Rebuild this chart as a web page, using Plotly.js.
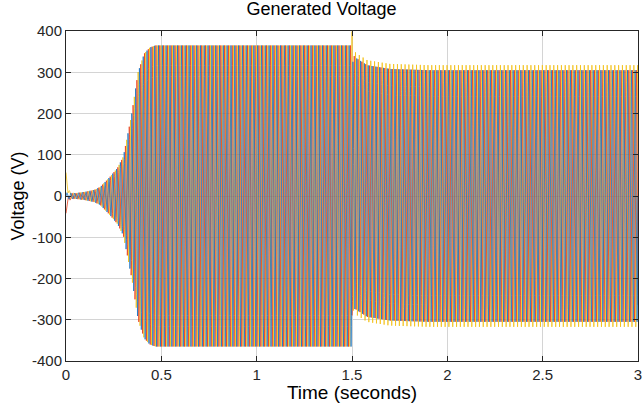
<!DOCTYPE html>
<html><head><meta charset="utf-8">
<script src="https://cdn.plot.ly/plotly-3.0.1.min.js"></script>
<style>body{margin:0;background:#fff}#c{width:643px;height:403px}</style>
</head><body><div id="c"></div>
<script>
// Values
var freqHz = 50;                        // grid frequency
var tEnd = 3;
var phaseNames = ['Phase C', 'Phase B', 'Phase A'];
var phaseColors = ['#F2C017', '#E8401C', '#1A74C2'];
var phaseShiftDeg = [120, -120, 0];
// amplitude envelope (V) at time knots (s)
var envT = [0, 0.05, 0.10, 0.15, 0.18, 0.23, 0.27, 0.30, 0.32, 0.345, 0.378, 0.41, 0.44, 0.47, 1.5, 1.5001, 1.55, 3.0];
var envA = [8, 7, 10, 15, 22, 46, 68, 95, 140, 200, 300, 345, 360, 365, 365, 305, 305, 305];
// per-phase amplitude factor after the 1.5 s step
var postFactor = [1.04, 1.0, 1.0];
// common offset after the step (V)
var offT = [1.5, 1.52, 1.58, 1.7, 1.9, 3.0];
var offD = [40, 30, 12, 3, 0, 0];
// start-up offsets per phase at t = 0 (V)
var startOffset = [50, -35, 0];
var startTau = 0.008;
// step glitch per phase at t = 1.5 (V)
var stepOffset = [30, 0, -60];
var stepTau = 0.004;
var xTicks = [0, 0.5, 1, 1.5, 2, 2.5, 3];
var yTicks = [-400, -300, -200, -100, 0, 100, 200, 300, 400];

function lerp(xs, ys, x) {
  if (x <= xs[0]) return ys[0];
  for (var i = 1; i < xs.length; i++) {
    if (x <= xs[i]) { var f = (x - xs[i-1]) / (xs[i] - xs[i-1]); return ys[i-1] + f * (ys[i] - ys[i-1]); }
  }
  return ys[ys.length - 1];
}
var dt = 1 / (freqHz * 48);
var traces = [];
for (var p = 0; p < 3; p++) {
  var xs = [], ys = [];
  for (var t = 0; t <= tEnd + 1e-9; t += dt) {
    var a = lerp(envT, envA, t);
    var off = 0;
    if (t >= 1.5) { a *= postFactor[p]; off = lerp(offT, offD, t) + stepOffset[p] * Math.exp(-(t - 1.5) / stepTau); }
    off += startOffset[p] * Math.exp(-t / startTau);
    xs.push(t);
    ys.push(a * Math.sin(2 * Math.PI * freqHz * t + phaseShiftDeg[p] * Math.PI / 180) + off);
  }
  traces.push({x: xs, y: ys, type: 'scatter', mode: 'lines', name: phaseNames[p], line: {color: phaseColors[p], width: 0.8}, hoverinfo: 'skip'});
}
var fam = 'Liberation Sans, Arial, sans-serif';
var axFont = {family: fam, size: 15, color: '#262626'};
var layout = {
  width: 643, height: 403,
  margin: {l: 66, r: 5, t: 31, b: 42},
  paper_bgcolor: '#fff', plot_bgcolor: '#fff',
  showlegend: false,
  title: {text: 'Generated Voltage', font: {family: fam, size: 18, color: '#000'}, x: 0.5, xanchor: 'center', y: 0.995, yanchor: 'top'},
  xaxis: {range: [0, 3], tickvals: xTicks, ticktext: xTicks.map(String), showgrid: true, gridcolor: '#d4d4d4', gridwidth: 1,
    zeroline: false, showline: true, linecolor: '#262626', linewidth: 1, mirror: 'ticks', ticks: 'inside', ticklen: 5, tickcolor: '#262626',
    tickfont: axFont, title: {text: 'Time (seconds)', font: {family: fam, size: 19, color: '#000'}, standoff: 1}},
  yaxis: {range: [-400, 400], tickvals: yTicks, ticktext: yTicks.map(String), showgrid: true, gridcolor: '#d4d4d4', gridwidth: 1,
    zeroline: false, showline: true, linecolor: '#262626', linewidth: 1, mirror: 'ticks', ticks: 'inside', ticklen: 5, tickcolor: '#262626',
    tickfont: axFont, title: {text: 'Voltage (V)', font: {family: fam, size: 18, color: '#000'}, standoff: 2}}
};
Plotly.newPlot('c', traces, layout, {displayModeBar: false, staticPlot: true});
</script></body></html>
